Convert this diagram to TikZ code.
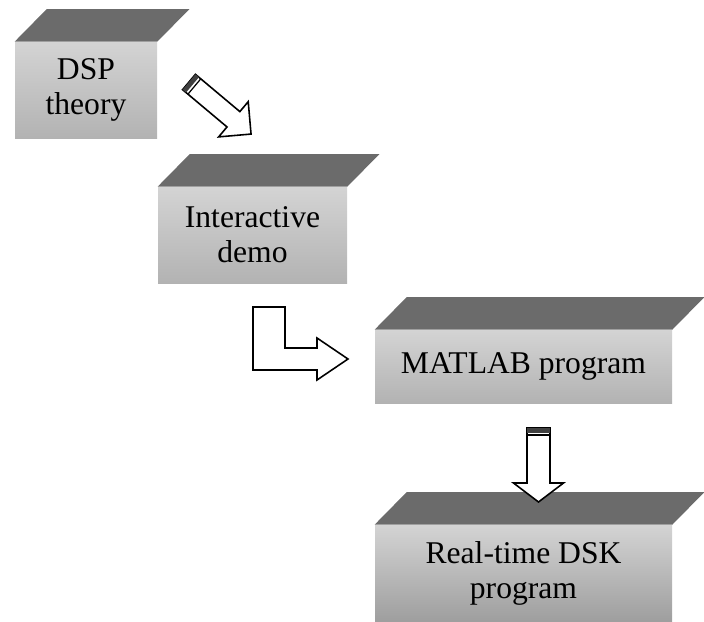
\documentclass[tikz,border=0pt]{standalone}
\usepackage{fontspec}
\setmainfont{Liberation Serif}
\tikzset{
  front/.style={rectangle, inner sep=0pt, align=center, top color=black!17, bottom color=black!30, font=\fontsize{18}{20}\selectfont},
  topface/.style={fill=black!58},
  blockarrow/.style={draw=black, fill=white, line width=0.9pt, line join=miter}
}
\begin{document}
\begin{tikzpicture}
  \useasboundingbox (0,0) rectangle (14.08,-12.44);
  \node (theory) at (1.72,-1.8) [front, minimum width=2.84cm, minimum height=1.92cm] {DSP\\theory};
  \node (demo) at (5.05,-4.7) [front, minimum width=3.78cm, minimum height=1.92cm] {Interactive\\demo};
  \node (matlab) at (10.47,-7.33) [front, minimum width=5.94cm, minimum height=1.46cm] {MATLAB program};
  \node (dsk) at (10.47,-11.47) [front, minimum width=5.94cm, minimum height=1.94cm, bottom color=black!38] {Real-time DSK\\program};
  \foreach \block in {theory, demo, matlab, dsk}
    \fill[topface] (\block.north west) -- ++(0.64,0.65) -- ([shift={(0.64,0.65)}]\block.north east) -- (\block.north east) -- cycle;
  % block arrows
  \coordinate (a1) at (3.78,-1.64);
  \coordinate (a2) at (5.06,-6.14);
  \coordinate (a3) at (10.77,-8.56);
  \foreach \tail/\ang/\len/\w/\W/\h in {a1/-40/1.62/0.4/0.92/0.46, a3/-90/1.48/0.46/1.0/0.38} {
    \begin{scope}[shift={(\tail)}, rotate=\ang]
      \draw[blockarrow] (0,-\w/2) -- (\len-\h,-\w/2) -- (\len-\h,-\W/2) -- (\len,0) -- (\len-\h,\W/2) -- (\len-\h,\w/2) -- (0,\w/2) -- cycle;
      \fill[black!75] (0,-\w/2) rectangle (0.09,\w/2);
      \draw[line width=0.7pt] (0.14,-\w/2) -- (0.14,\w/2);
    \end{scope}
  }
  \draw[blockarrow] (a2) -- ++(0.64,0) -- ++(0,-0.82) -- ++(0.64,0) -- ++(0,0.2) -- ++(0.62,-0.42) -- ++(-0.62,-0.42) -- ++(0,0.2) -- ++(-1.28,0) -- cycle;
\end{tikzpicture}
\end{document}
